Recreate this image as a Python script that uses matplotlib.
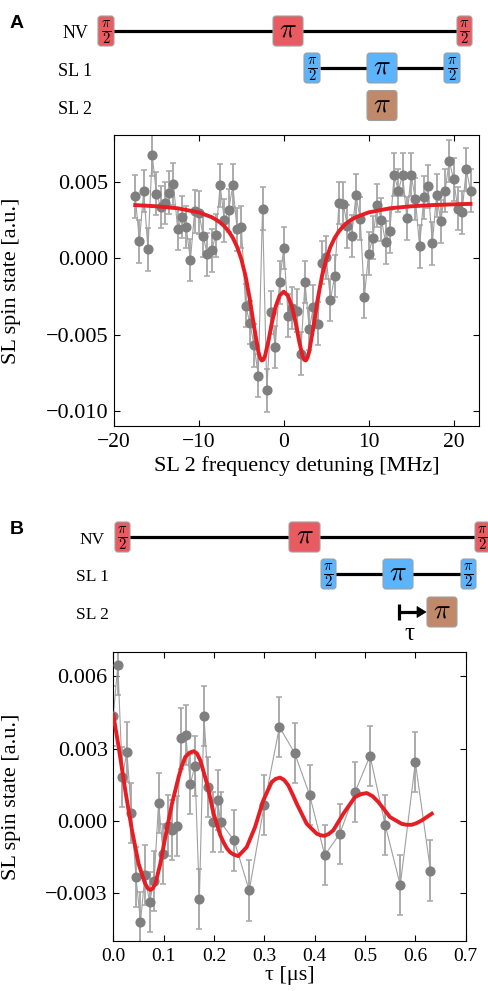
import matplotlib
matplotlib.use('Agg')
import matplotlib.pyplot as plt
from matplotlib.patches import FancyBboxPatch, Polygon
from matplotlib.ticker import FuncFormatter, MultipleLocator

plt.rcParams['font.family'] = ['Liberation Serif', 'DejaVu Serif']
plt.rcParams['mathtext.fontset'] = 'cm'

# ---- panel A data: SL 2 frequency detuning scan ----
detuning = [-17.5, -17.0, -16.5, -16.0, -15.5, -15.0, -14.5, -14.0, -13.5, -13.0,
            -12.5, -12.0, -11.5, -11.0, -10.5, -10.0, -9.5, -9.0, -8.5, -8.0,
            -7.5, -7.0, -6.5, -6.0, -5.5, -5.0, -4.5, -4.0, -3.5, -3.0,
            -2.5, -2.0, -1.5, -1.0, -0.5, 0.0, 0.5, 1.0, 1.5, 2.0,
            2.5, 3.0, 3.5, 4.0, 4.5, 5.0, 5.5, 6.0, 6.5, 7.0,
            7.5, 8.0, 8.5, 9.0, 9.5, 10.0, 10.5, 11.0, 11.5, 12.0,
            12.5, 13.0, 13.5, 14.0, 14.5, 15.0, 15.5, 16.0, 16.5, 17.0,
            17.5, 18.0, 18.5, 19.0, 19.5, 20.0, 20.5, 21.0, 21.5, 22.0]
spin_a = [0.00407, 0.00113, 0.00442, 0.00059, 0.0068, 0.00425, 0.00338, 0.00364, 0.00431, 0.00488,
          0.00192, 0.00272, 0.00207, -0.00011, 0.00309, 0.00301, 0.00148, 0.00026, 0.00054, 0.00152,
          0.00479, 0.0025, 0.00316, 0.00479, 0.0019, 0.00207, -0.0031, -0.00421, -0.00571, -0.00769,
          0.00327, -0.00865, -0.00353, -0.00582, -0.00157, 0.00069, -0.00375, -0.00325, -0.00342, -0.00626,
          -0.00155, -0.00464, -0.00316, -0.00429, -0.00029, 0.00007, -0.00272, -0.00116, 0.00364, 0.00359,
          0.00211, 0.00148, 0.00414, 0.00261, -0.00251, 0.00032, 0.00137, 0.00348, 0.00255, 0.00105,
          0.00178, 0.00549, 0.00444, 0.00549, 0.00264, 0.00549, 0.0039, 0.0008, 0.00401, 0.00473,
          0.001, 0.00414, 0.00244, 0.00444, 0.0064, 0.0052, 0.00327, 0.00303, 0.00584, 0.00444]
err_a = 0.0014

fit_a_x = [-17.5, -15, -12.5, -10, -8.5, -8, -7.5, -7, -6.5, -6, -5.5, -5, -4.5, -4, -3.5,
           -3, -2.8, -2.6, -2.4, -2.2, -1.8, -1.4, -1, -0.5, 0, 0.5, 1, 1.4, 1.8, 2.2,
           2.4, 2.6, 2.8, 3, 3.5, 4, 4.5, 5, 5.5, 6, 6.5, 7, 7.5, 8, 8.5,
           10, 12.5, 15, 17.5, 20, 22]
fit_a_y = [0.00350, 0.00342, 0.00329, 0.00302, 0.00271, 0.00255, 0.00236, 0.00211, 0.00178, 0.00135,
           0.00076, -0.00005, -0.00117, -0.00267, -0.00448, -0.00611, -0.00651, -0.00670, -0.00665, -0.00638,
           -0.00540, -0.00423, -0.00324, -0.00245, -0.00218, -0.00245, -0.00324, -0.00423, -0.00540, -0.00638,
           -0.00665, -0.00670, -0.00651, -0.00611, -0.00448, -0.00267, -0.00117, -0.00005, 0.00076, 0.00135,
           0.00178, 0.00211, 0.00236, 0.00255, 0.00271, 0.00302, 0.00329, 0.00342, 0.00350, 0.00355, 0.00358]

# ---- panel B data: delay scan ----
tau = [0.0, 0.009, 0.018, 0.027, 0.036, 0.045, 0.054, 0.063, 0.072, 0.081,
       0.090, 0.099, 0.108, 0.117, 0.126, 0.135, 0.144, 0.153, 0.162, 0.171,
       0.180, 0.189, 0.198, 0.207, 0.213,
       0.24, 0.27, 0.30, 0.33, 0.36, 0.39, 0.42, 0.45, 0.48, 0.51, 0.54, 0.57, 0.60, 0.63]
spin_b = [0.00436, 0.00647, 0.00182, 0.00286, 0.00033, -0.00235, -0.0042, -0.00225, -0.00339, -0.00249,
          0.00075, -0.00138, -0.0002, -0.0004, -0.00022, 0.00342, 0.00355, 0.00154, 0.00226, -0.00325,
          0.00436, 0.0014, -0.00006, 0.00087, -0.00006,
          -0.00082, -0.0029, 0.00067, 0.0039, 0.00282, 0.00107, -0.00143, -0.00054, 0.00118, 0.0027,
          -0.00017, -0.00268, 0.00243, -0.00207]
err_b = 0.00125

fit_b_x = [0.0, 0.0106, 0.0238, 0.0371, 0.0503, 0.0580, 0.0636, 0.0690, 0.0735, 0.0780,
           0.0834, 0.0934, 0.1033, 0.1166, 0.1298, 0.1365, 0.143, 0.1518, 0.1596, 0.166,
           0.1728, 0.1861, 0.193, 0.1993, 0.2125, 0.219, 0.2257, 0.232, 0.2384, 0.2483,
           0.256, 0.265, 0.2815, 0.298, 0.3147, 0.3228, 0.3311, 0.339, 0.3476, 0.356,
           0.3643, 0.3842, 0.404, 0.411, 0.4191, 0.428, 0.437, 0.4569, 0.48, 0.491,
           0.5034, 0.515, 0.5264, 0.5497, 0.5729, 0.583, 0.5928, 0.6025, 0.6126, 0.6325]
fit_b_y = [0.0044, 0.00307, 0.00126, -0.0004, -0.00179, -0.00230, -0.00263, -0.00282, -0.00288, -0.00282,
           -0.00263, -0.00179, -0.00068, 0.00071, 0.00182, 0.00230, 0.00265, 0.00283, 0.00289, 0.00280,
           0.00251, 0.00154, 0.0009, 0.00029, -0.0006, -0.0009, -0.00115, -0.00131, -0.0014, -0.00147,
           -0.0013, -0.0011, -0.00027, 0.00085, 0.00161, 0.00174, 0.00179, 0.00170, 0.00147, 0.0011,
           0.00071, -0.00013, -0.00054, -0.0006, -0.00063, -0.00055, -0.0004, 0.00029, 0.00098, 0.0011,
           0.00115, 0.00102, 0.00078, 0.00015, -0.00013, -0.00017, -0.00017, -0.0001, 0.00001, 0.00029]

red = '#ea5b61'
blue = '#5bb4fc'
brown = '#c0896a'
fit_red = '#e61e24'

W, H = 488, 991
fig = plt.figure(figsize=(W / 100, H / 100), dpi=100)


def pix_axes(left, top, right, bottom):
    return fig.add_axes([left / W, 1 - bottom / H, (right - left) / W, (bottom - top) / H])


def three_dec(v, pos):
    return f'{v:.3f}'.replace('-', '\u2212')


def style(ax, xsize, ysize):
    ax.tick_params(direction='in', top=True, right=True, length=4, width=0.8)
    ax.tick_params(axis='x', labelsize=xsize, pad=5)
    ax.tick_params(axis='y', labelsize=ysize, pad=4)
    for s in ax.spines.values():
        s.set_linewidth(0.8)


def draw_data(ax, x, y, err, fx, fy):
    ax.errorbar(x, y, yerr=err, fmt='none', ecolor='#ababab', elinewidth=1.4,
                capsize=2.5, capthick=1.2, zorder=1)
    ax.plot(x, y, '-', color='#a0a0a0', lw=0.8, zorder=2)
    ax.plot(x, y, 'o', color='#7f7f7f', ms=6.3, mec='#7f7f7f', zorder=3)
    ax.plot(fx, fy, '-', color=fit_red, lw=2.8, zorder=4)


# ---- panel A plot ----
axa = pix_axes(114, 135, 479, 426)
draw_data(axa, detuning, spin_a, err_a, fit_a_x, fit_a_y)
axa.set_xlim(-20, 23)
axa.set_ylim(-0.011, 0.0081)
axa.xaxis.set_major_locator(MultipleLocator(10))
axa.set_yticks([-0.010, -0.005, 0.0, 0.005])
axa.yaxis.set_major_formatter(FuncFormatter(three_dec))
style(axa, 15.5, 16)
axa.set_xlabel('SL 2 frequency detuning [MHz]', fontsize=16)
axa.set_ylabel('SL spin state [a.u.]', fontsize=16)
axa.xaxis.set_label_coords(0.5, -0.105)
axa.yaxis.set_label_coords(-0.255, 0.5)

# ---- panel B plot ----
axb = pix_axes(113.3, 652.3, 465.7, 941)
draw_data(axb, tau, spin_b, err_b, fit_b_x, fit_b_y)
axb.set_xlim(0, 0.7)
axb.set_ylim(-0.005, 0.007)
axb.xaxis.set_major_locator(MultipleLocator(0.1))
axb.xaxis.set_major_formatter(FuncFormatter(lambda v, p: f'{v:.1f}'))
axb.set_yticks([-0.003, 0.0, 0.003, 0.006])
axb.yaxis.set_major_formatter(FuncFormatter(three_dec))
style(axb, 14, 16)
axb.set_xlabel('τ [μs]', fontsize=16)
axb.set_ylabel('SL spin state [a.u.]', fontsize=16)
axb.xaxis.set_label_coords(0.5, -0.088)
axb.yaxis.set_label_coords(-0.262, 0.5)

# ---- pulse sequence schematics (pixel coordinates) ----
sk = fig.add_axes([0, 0, 1, 1], zorder=-1)
sk.set_xlim(0, W)
sk.set_ylim(H, 0)
sk.axis('off')


def pulse(x0, x1, yc, color, half=False):
    h = 30
    sk.add_patch(FancyBboxPatch((x0, yc - h / 2), x1 - x0, h,
                                boxstyle='round,pad=0,rounding_size=3',
                                fc=color, ec='#a0a0a0', lw=0.8, zorder=3))
    if half:
        sk.text((x0 + x1) / 2, yc + 1, r'$\frac{\pi}{2}$', fontsize=15,
                ha='center', va='center', zorder=4)
    else:
        sk.text((x0 + x1) / 2, yc - 1, r'$\pi$', fontsize=20,
                ha='center', va='center', zorder=4)


def wire(x0, x1, yc):
    sk.plot([x0, x1], [yc, yc], color='black', lw=2.3, zorder=2,
            solid_capstyle='butt')


# A
sk.text(17, 23, 'A', family='Liberation Sans', weight='bold', fontsize=14,
        ha='center', va='center')
for lab, yy in [('NV', 33), ('SL 1', 71), ('SL 2', 109)]:
    sk.text(75, yy, lab, fontsize=13, ha='center', va='center')
wire(113, 458, 31)
pulse(98, 114, 31, red, half=True)
pulse(273, 303, 31, red)
pulse(457, 472, 31, red, half=True)
wire(320, 445, 68)
pulse(304, 320, 68, blue, half=True)
pulse(367, 397, 68, blue)
pulse(444, 460, 68, blue, half=True)
pulse(367, 397, 105.5, brown)

# B
sk.text(17, 530, 'B', family='Liberation Sans', weight='bold', fontsize=14,
        ha='center', va='center')
for lab, yy in [('NV', 540), ('SL 1', 577), ('SL 2', 615)]:
    sk.text(92, yy, lab, fontsize=12.5, ha='center', va='center')
wire(129, 476, 537)
pulse(115, 130, 537, red, half=True)
pulse(289, 320, 537, red)
pulse(475, 490, 537, red, half=True)
wire(335, 462, 574)
pulse(321, 336, 574, blue, half=True)
pulse(383, 413, 574, blue)
pulse(461, 476, 574, blue, half=True)
pulse(427, 457, 612, brown)
sk.plot([399, 399], [604, 620], color='black', lw=2.3, solid_capstyle='butt')
sk.plot([399, 418], [612, 612], color='black', lw=2.3, solid_capstyle='butt')
sk.add_patch(Polygon([[417, 606.5], [426, 612], [417, 617.5]], closed=True,
                     fc='black', ec='black', lw=0.5))
sk.text(409, 634, 'τ', fontsize=18, ha='center', va='center')

fig.savefig('out.png', dpi=100)
